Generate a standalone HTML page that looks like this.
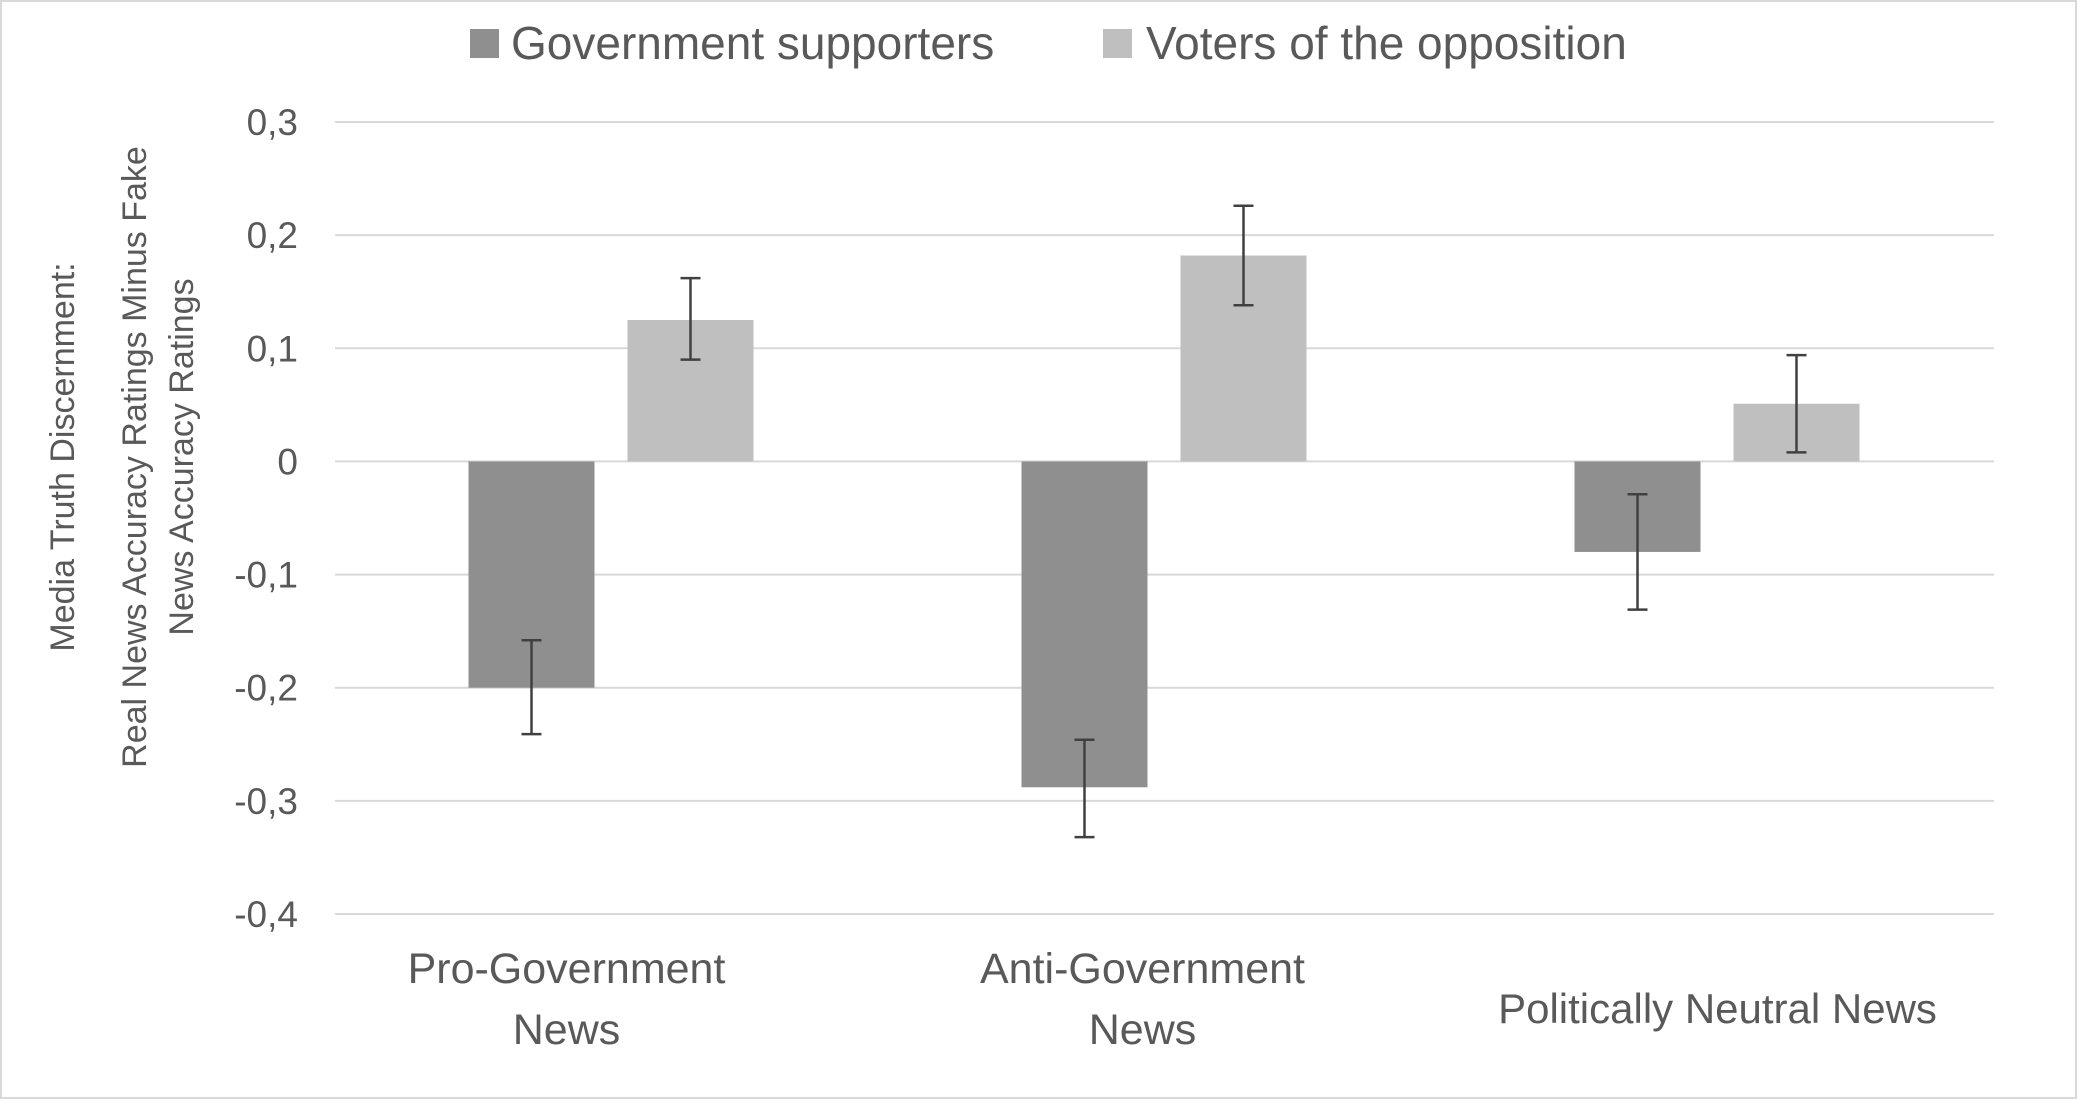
<!DOCTYPE html>
<html><head><meta charset="utf-8"><style>
html,body{margin:0;padding:0;background:#fff;}
svg{display:block;font-family:"Liberation Sans",sans-serif;}
</style></head><body>
<svg id="chart" width="2077" height="1099" viewBox="0 0 2077 1099" xmlns="http://www.w3.org/2000/svg">
<rect x="1" y="1" width="2075" height="1097" fill="#fff" stroke="#d9d9d9" stroke-width="2"/>
<g id="grid"></g>
<g id="yticks"></g>
<g id="bars"></g>
<g id="xlabels"></g>
<g>
<rect x="470" y="29" width="29" height="29" fill="#8f8f8f"/>
<text x="511" y="59" font-size="46" fill="#595959">Government supporters</text>
<rect x="1103" y="29" width="29" height="29" fill="#bfbfbf"/>
<text x="1146" y="59" font-size="46" fill="#595959">Voters of the opposition</text>
</g>
<g font-size="34" fill="#595959" text-anchor="middle">
<text transform="translate(74,457) rotate(-90)">Media Truth Discernment:</text>
<text transform="translate(146,457) rotate(-90)">Real News Accuracy Ratings Minus Fake</text>
<text transform="translate(193,457) rotate(-90)">News Accuracy Ratings</text>
</g>
</svg>
<script>
const categories=[["Pro-Government","News"],["Anti-Government","News"],["Politically Neutral News"]];
const govValues=[-0.2,-0.288,-0.08];
const govErrLow=[-0.241,-0.332,-0.131];
const govErrHigh=[-0.158,-0.246,-0.029];
const oppValues=[0.125,0.182,0.051];
const oppErrLow=[0.09,0.138,0.008];
const oppErrHigh=[0.162,0.226,0.094];
const tickValues=[0.3,0.2,0.1,0,-0.1,-0.2,-0.3,-0.4];
const tickLabels=["0,3","0,2","0,1","0","-0,1","-0,2","-0,3","-0,4"];

const NS="http://www.w3.org/2000/svg";
const x0=335,x1=1994,yTop=122,yBot=914,vMax=0.3,vMin=-0.4;
function y(v){return yTop+(vMax-v)/(vMax-vMin)*(yBot-yTop);}
const gw=(x1-x0)/categories.length;
function gx(i){return x0+(i+0.5)*gw;}
const labelShift=[-45,-22,0];
function mk(tag,attrs,parent){const e=document.createElementNS(NS,tag);for(const k in attrs)e.setAttribute(k,attrs[k]);parent.appendChild(e);return e;}
const grid=document.getElementById('grid'),yt=document.getElementById('yticks'),bars=document.getElementById('bars'),xl=document.getElementById('xlabels');
tickValues.forEach((v,i)=>{
 const l=mk('line',{x1:x0,x2:x1,y1:y(v),y2:y(v),stroke:'#d9d9d9','stroke-width':2},grid);
 
 
 const t=mk('text',{x:298,y:y(v)+13,'font-size':37,fill:'#595959','text-anchor':'end'},yt);
 t.textContent=tickLabels[i];
 
 
});
function bar(xl_,w,v,lo,hi,col,name){
 const r=mk('rect',{x:xl_,width:w,y:Math.min(y(v),y(0)),height:Math.abs(y(v)-y(0)),fill:col},bars);
 
 
 const cx=xl_+w/2;
 const g=mk('g',{stroke:'#404040','stroke-width':2.5},bars);
 
 
 mk('line',{x1:cx,x2:cx,y1:y(hi),y2:y(lo)},g);
 mk('line',{x1:cx-10,x2:cx+10,y1:y(hi),y2:y(hi)},g);
 mk('line',{x1:cx-10,x2:cx+10,y1:y(lo),y2:y(lo)},g);
}
categories.forEach((c,i)=>{
 const cx=gx(i);
 bar(cx-143,126,govValues[i],govErrLow[i],govErrHigh[i],'#8f8f8f','bar-government-'+i);
 bar(cx+16,126,oppValues[i],oppErrLow[i],oppErrHigh[i],'#bfbfbf','bar-opposition-'+i);
 const lx=cx+labelShift[i];
 if(c.length===2){
  c.forEach((s,j)=>{const t=mk('text',{x:lx,y:983+j*61,'font-size':43,fill:'#595959','text-anchor':'middle'},xl);t.textContent=s;
   
   });
 } else {
  const t=mk('text',{x:lx,y:1023,'font-size':42,fill:'#595959','text-anchor':'middle'},xl);t.textContent=c[0];
  
  
 }
});
</script>
</body></html>
